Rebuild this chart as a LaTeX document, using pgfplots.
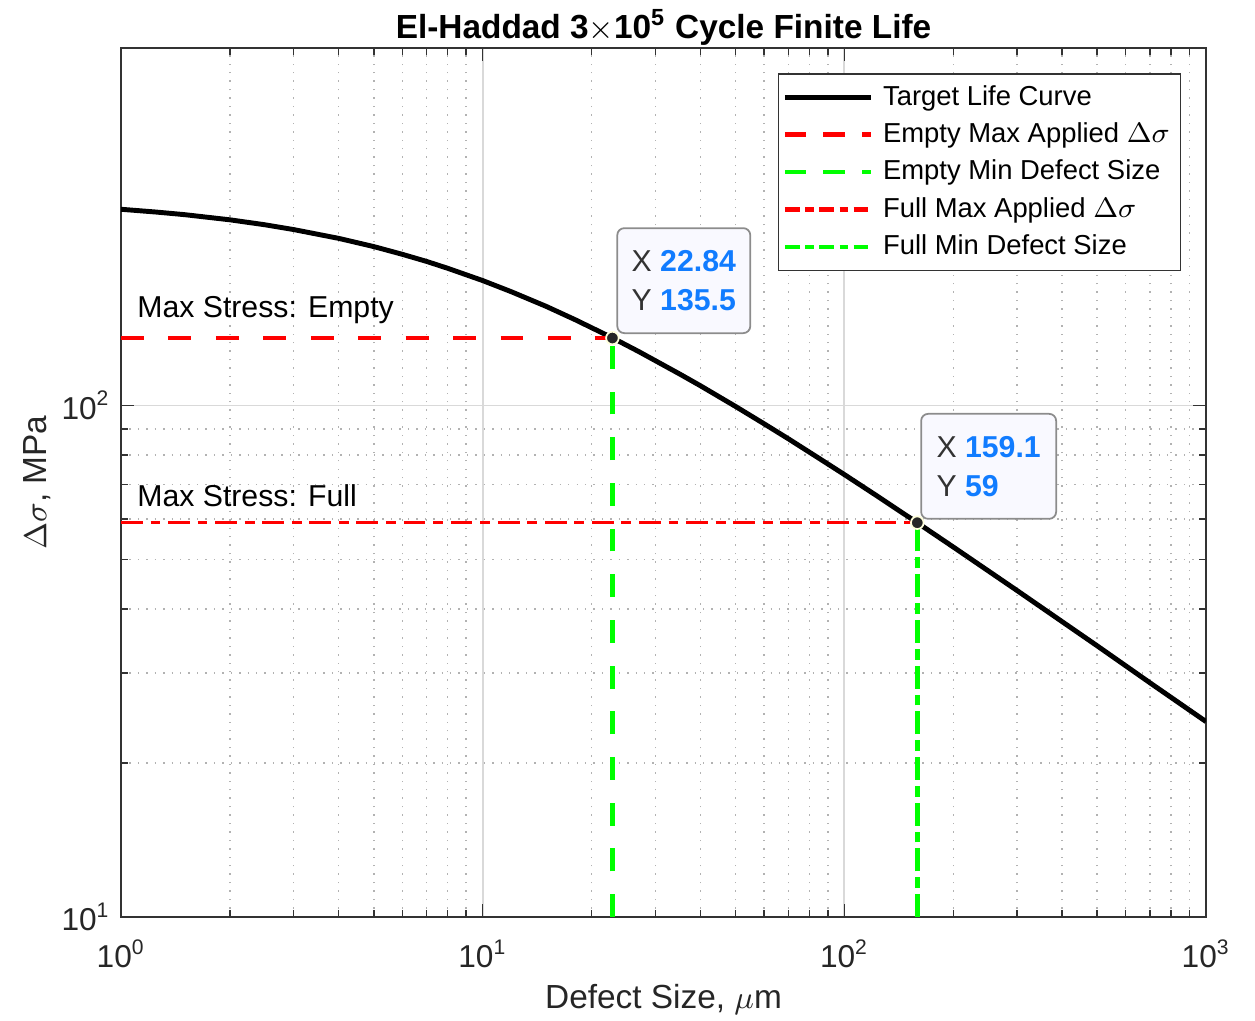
\documentclass[border=0pt]{standalone}
\usepackage{pgfplots}
\pgfplotsset{compat=1.18}
\usepackage{fontspec}
\setmainfont{Liberation Sans}
\definecolor{tipblue}{RGB}{17,124,255}
\definecolor{tipfill}{RGB}{249,249,255}
\definecolor{tipedge}{RGB}{255,255,220}
\begin{document}
\fontsize{8.6}{10}\selectfont
\begin{tikzpicture}
\begin{loglogaxis}[
  scale only axis,
  width=10.85cm, height=8.69cm,
  xmin=1, xmax=1000, ymin=10, ymax=500,
  xtick={1,10,100,1000},
  xticklabels={10\textsuperscript{0},10\textsuperscript{1},10\textsuperscript{2},10\textsuperscript{3}},
  ytick={10,100},
  yticklabels={10\textsuperscript{1},10\textsuperscript{2}},
  tick align=inside,
  major tick length=0.13cm,
  minor tick length=0.07cm,
  every tick/.style={black!80},
  axis line style={black!80},
  grid=both,
  major grid style={black!15, line width=0.5pt},
  minor grid style={black!30, dotted, line width=0.4pt},
  tick label style={font=\fontsize{9}{10}\selectfont, black!85},
  xticklabel style={yshift=-0.12cm},
  xlabel={Defect Size, $\mu$m},
  ylabel={$\Delta\sigma$, MPa},
  label style={font=\fontsize{9.5}{11}\selectfont, black!85},
  xlabel style={yshift=0.05cm},
  ylabel style={yshift=-0.1cm},
  legend style={at={(0.977,0.971)}, anchor=north east, draw=black!80,
    font=\fontsize{7.8}{9}\selectfont, row sep=-0.3pt, inner xsep=1pt, inner ysep=1.2pt,
    /tikz/every odd column/.append style={column sep=0.8pt}},
  legend cell align=left,
  legend image code/.code={\draw[#1] (0cm,0cm) -- (0.86cm,0cm);},
]
\addlegendimage{black, line width=1.4pt}
\addlegendentry{Target Life Curve}
\addlegendimage{red, line width=1.3pt, dash pattern=on 6pt off 5pt}
\addlegendentry{Empty Max Applied $\Delta\sigma$}
\addlegendimage{green, line width=1.3pt, dash pattern=on 6pt off 5pt}
\addlegendentry{Empty Min Defect Size}
\addlegendimage{red, line width=1.3pt, dash pattern=on 4.2pt off 1.6pt on 2.4pt off 1.6pt}
\addlegendentry{Full Max Applied $\Delta\sigma$}
\addlegendimage{green, line width=1.3pt, dash pattern=on 4.2pt off 1.6pt on 2.4pt off 1.6pt}
\addlegendentry{Full Min Defect Size}
\addplot[black, line width=1.4pt, forget plot] coordinates {
 (1,241.9) (1.25,238.9) (1.5,236.1) (2,230.7) (2.5,225.6) (3,220.8) (4,212.2)
 (5,204.5) (6,197.5) (7,191.3) (8,185.5) (10,175.5) (12,166.9) (15,156.2)
 (18,147.2) (22.84,135.6) (27,127.5) (35,115.3) (40,109.3) (50,99.6) (60,92.1)
 (70,86.1) (85,78.9) (100,73.3) (125,66.1) (159.1,59.0) (200,52.9) (250,47.5)
 (300,43.5) (400,37.8) (500,33.9) (700,28.7) (1000,24.1)};
\addplot[red, line width=1.3pt, dash pattern=on 6.5pt off 7pt, forget plot] coordinates {(1,135.5) (22.84,135.5)};
\addplot[green, line width=1.2pt, dash pattern=on 6.5pt off 6.5pt, forget plot] coordinates {(22.84,10) (22.84,135.5)};
\addplot[red, line width=0.8pt, dash pattern=on 6.2pt off 2.2pt on 2.8pt off 2.2pt, forget plot] coordinates {(1,59) (159.1,59)};
\addplot[green, line width=1.4pt, dash pattern=on 6.5pt off 1.7pt on 3.1pt off 1.7pt, forget plot] coordinates {(159.1,10) (159.1,59)};
\addplot[only marks, mark=*, mark size=1.8pt, mark options={fill=black!85, draw=tipedge, line width=0.5pt}, forget plot]
  coordinates {(22.84,135.5) (159.1,59)};
\node[anchor=base west, inner sep=0pt, font=\fontsize{8.6}{10}\selectfont] at (axis cs:1.105,135.5) [yshift=0.21cm] {Max Stress: Empty};
\node[anchor=base west, inner sep=0pt, font=\fontsize{8.6}{10}\selectfont] at (axis cs:1.105,59) [yshift=0.16cm] {Max Stress: Full};
\node[anchor=south west, draw=black!45, fill=tipfill, rounded corners=2pt, line width=0.5pt,
  align=left, inner xsep=4pt, inner ysep=4pt, font=\fontsize{8.6}{11}\selectfont,
  xshift=0.04cm, yshift=0.04cm, minimum width=1.33cm, minimum height=1.05cm]
  at (axis cs:22.84,135.5) {\textcolor{black!80}{X} \textcolor{tipblue}{\textbf{22.84}}\\ \textcolor{black!80}{Y} \textcolor{tipblue}{\textbf{135.5}}};
\node[anchor=south west, draw=black!45, fill=tipfill, rounded corners=2pt, line width=0.5pt,
  align=left, inner xsep=4pt, inner ysep=4pt, font=\fontsize{8.6}{11}\selectfont,
  xshift=0.03cm, yshift=0.03cm, minimum width=1.35cm, minimum height=1.05cm]
  at (axis cs:159.1,59) {\textcolor{black!80}{X} \textcolor{tipblue}{\textbf{159.1}}\\ \textcolor{black!80}{Y} \textcolor{tipblue}{\textbf{59}}\hphantom{.5.}};
\end{loglogaxis}
\node[anchor=base, font=\fontsize{9.5}{11}\selectfont, yshift=0.09cm] at (current axis.north)
  {\textbf{El-Haddad 3$\times$10\textsuperscript{5} Cycle Finite Life}};
\pgfresetboundingbox
\path (current axis.south west) ++(-1.21cm,-1.03cm) coordinate (bbA);
\path (current axis.north east) ++(0.49cm,0.48cm) coordinate (bbB);
\useasboundingbox (bbA) rectangle (bbB);
\end{tikzpicture}
\end{document}
